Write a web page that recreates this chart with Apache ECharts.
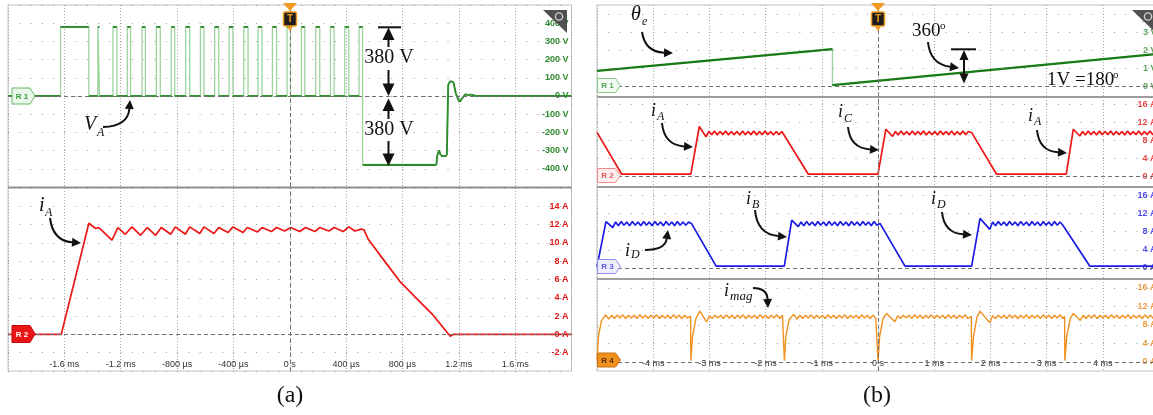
<!DOCTYPE html>
<html>
<head>
<meta charset="utf-8">
<script src="https://cdn.jsdelivr.net/npm/echarts@6/dist/echarts.min.js"></script>
<style>
  html, body { margin: 0; padding: 0; background: #fff; }
  #c { width: 1153px; height: 415px; }
</style>
</head>
<body>
<div id="c"></div>
<script>
// ---------------- (a) single switching period, 400 us/div ----------------
// Leg voltage V_A: windows [start, end] (ms) during which V_A sits at +380 V
const vaPulses = [
  [-1.627, -1.426], [-1.362, -1.350], [-1.255, -1.227], [-1.153, -1.130], [-1.049, -1.025],
  [-0.947, -0.919], [-0.841, -0.817], [-0.739, -0.710], [-0.634, -0.609], [-0.533, -0.504],
  [-0.431, -0.403], [-0.327, -0.296], [-0.225, -0.197], [-0.123, -0.094], [-0.019, 0.005],
  [0.083, 0.107], [0.185, 0.213], [0.289, 0.315], [0.391, 0.419], [0.492, 0.517]
];
const vaHigh = 380;
const vaLead = [[-2.0, 0]];
// demagnetising interval (-380 V) and ringing back to zero
const vaTail = [
  [0.517, -376], [1.042, -376], [1.046, -330], [1.060, -298], [1.072, -326], [1.115, -326],
  [1.125, 62], [1.140, 82], [1.162, 76], [1.180, 10], [1.205, -33], [1.225, -12],
  [1.248, 10], [1.268, 4], [1.290, 8], [1.320, 0], [2.0, 0]
];
// Phase current i_A (ms, A)
const iaPoints = [
  [-2.0, 0], [-1.622, 0], [-1.426, 12.15], [-1.378, 11.57], [-1.355, 11.68], [-1.262, 10.31],
  [-1.220, 11.68], [-1.167, 10.94], [-1.120, 11.75], [-1.059, 10.83], [-1.011, 11.68],
  [-0.952, 10.83], [-0.912, 11.68], [-0.845, 10.94], [-0.812, 11.75], [-0.741, 10.94],
  [-0.710, 11.75], [-0.639, 11.02], [-0.609, 11.75], [-0.538, 11.02], [-0.504, 11.68],
  [-0.438, 11.13], [-0.403, 11.75], [-0.332, 11.13], [-0.301, 11.68], [-0.229, 11.20],
  [-0.197, 11.68], [-0.130, 11.24], [-0.094, 11.68], [-0.036, 11.30], [0.007, 11.68],
  [0.071, 11.24], [0.112, 11.68], [0.178, 11.24], [0.213, 11.68], [0.277, 11.30],
  [0.315, 11.68], [0.379, 11.24], [0.419, 11.75], [0.462, 11.30], [0.509, 11.50],
  [0.526, 11.44], [0.557, 10.40], [0.664, 8.20], [0.781, 5.80], [0.900, 3.94],
  [1.018, 2.10], [1.125, 0.07], [1.140, -0.20], [1.160, 0], [2.0, 0]
];
const xTicksA = [-1.6, -1.2, -0.8, -0.4, 0, 0.4, 0.8, 1.2, 1.6];
const xTickLabelsA = ['-1.6 ms', '-1.2 ms', '-800 µs', '-400 µs', '0 s', '400 µs', '800 µs', '1.2 ms', '1.6 ms'];
const vTicksA = [-400, -300, -200, -100, 0, 100, 200, 300, 400];
const vTickLabelsA = ['-400 V', '-300 V', '-200 V', '-100 V', '0 V', '100 V', '200 V', '300 V', '400 V'];
const iTicksA = [-2, 0, 2, 4, 6, 8, 10, 12, 14];
const iTickLabelsA = ['-2 A', '0 A', '2 A', '4 A', '6 A', '8 A', '10 A', '12 A', '14 A'];

// ---------------- (b) several electrical periods, 1 ms/div ----------------
// Rotor angle signal theta_e (1 V = 180 deg)
const thetaPoints = [[-5.0, 0.85], [-0.81, 2.05], [-0.81, 0.06], [5.0, 1.80]];
// Phase currents i_A / i_C (channel R2)
const iAcPoints = [
  [-5.0, 9.7], [-4.56, 0.4], [-3.33, 0.4], [-3.18, 11.0], [-3.06, 8.7],
  [-3.01, 9.9], [-2.96, 9.2], [-2.91, 10.0], [-2.86, 9.1], [-2.81, 9.9], [-2.76, 9.2], [-2.71, 10.0],
  [-2.66, 9.1], [-2.61, 9.9], [-2.56, 9.2], [-2.51, 9.9], [-2.46, 9.1], [-2.41, 10.0], [-2.36, 9.2],
  [-2.31, 9.9], [-2.26, 9.2], [-2.21, 10.0], [-2.16, 9.1], [-2.11, 9.9], [-2.06, 9.2], [-2.01, 10.0],
  [-1.96, 9.2], [-1.91, 9.9], [-1.86, 9.1], [-1.81, 9.9], [-1.76, 9.2], [-1.71, 9.9], [-1.69, 9.7],
  [-1.24, 0.4], [0.0, 0.4], [0.14, 10.4], [0.26, 8.8],
  [0.31, 9.9], [0.36, 9.1], [0.41, 10.0], [0.46, 9.2], [0.51, 9.9], [0.56, 9.1], [0.61, 10.0],
  [0.66, 9.2], [0.71, 9.9], [0.76, 9.2], [0.81, 10.0], [0.86, 9.1], [0.91, 9.9], [0.96, 9.2],
  [1.01, 9.9], [1.06, 9.1], [1.11, 10.0], [1.16, 9.2], [1.21, 9.9], [1.26, 9.2], [1.31, 10.0],
  [1.36, 9.1], [1.41, 9.9], [1.46, 9.2], [1.51, 10.0], [1.56, 9.2], [1.61, 9.9], [1.67, 9.6],
  [2.11, 0.4], [3.35, 0.4], [3.475, 10.4], [3.59, 8.9],
  [3.64, 9.9], [3.69, 9.1], [3.74, 10.0], [3.79, 9.2], [3.84, 9.9], [3.89, 9.1], [3.94, 10.0],
  [3.99, 9.2], [4.04, 9.9], [4.09, 9.2], [4.14, 10.0], [4.19, 9.1], [4.24, 9.9], [4.29, 9.2],
  [4.34, 9.9], [4.39, 9.1], [4.44, 10.0], [4.49, 9.2], [4.54, 9.9], [4.59, 9.2], [4.64, 10.0],
  [4.69, 9.1], [4.74, 9.9], [4.79, 9.2], [4.84, 10.0], [4.89, 9.2], [4.94, 9.9], [5.0, 9.3]
];
// Phase currents i_B / i_D (channel R3)
const iBdPoints = [
  [-5.0, 0.3], [-4.84, 10.2], [-4.72, 8.9],
  [-4.67, 10.1], [-4.62, 9.3], [-4.57, 10.2], [-4.52, 9.4], [-4.47, 10.1], [-4.42, 9.3], [-4.37, 10.2],
  [-4.32, 9.4], [-4.27, 10.1], [-4.22, 9.3], [-4.17, 10.2], [-4.12, 9.4], [-4.07, 10.1], [-4.02, 9.3],
  [-3.97, 10.2], [-3.92, 9.4], [-3.87, 10.1], [-3.82, 9.3], [-3.77, 10.2], [-3.72, 9.4], [-3.67, 10.1],
  [-3.62, 9.3], [-3.57, 10.2], [-3.52, 9.4], [-3.47, 10.1], [-3.42, 9.4], [-3.37, 10.1], [-3.32, 9.8],
  [-2.88, 0.4], [-1.667, 0.4], [-1.535, 10.5], [-1.42, 9.1],
  [-1.37, 10.1], [-1.32, 9.3], [-1.27, 10.2], [-1.22, 9.4], [-1.17, 10.1], [-1.12, 9.3], [-1.07, 10.2],
  [-1.02, 9.4], [-0.97, 10.1], [-0.92, 9.3], [-0.87, 10.2], [-0.82, 9.4], [-0.77, 10.1], [-0.72, 9.3],
  [-0.67, 10.2], [-0.62, 9.4], [-0.57, 10.1], [-0.52, 9.3], [-0.47, 10.2], [-0.42, 9.4], [-0.37, 10.1],
  [-0.32, 9.3], [-0.27, 10.2], [-0.22, 9.4], [-0.17, 10.1], [-0.12, 9.3], [-0.07, 10.2], [-0.02, 9.4],
  [0.036, 9.8], [0.48, 0.4], [1.667, 0.4], [1.815, 10.9], [1.99, 8.5],
  [2.04, 10.1], [2.09, 9.3], [2.14, 10.2], [2.19, 9.4], [2.24, 10.1], [2.29, 9.3], [2.34, 10.2],
  [2.39, 9.4], [2.44, 10.1], [2.49, 9.3], [2.54, 10.2], [2.59, 9.4], [2.64, 10.1], [2.69, 9.3],
  [2.74, 10.2], [2.79, 9.4], [2.84, 10.1], [2.89, 9.3], [2.94, 10.2], [2.99, 9.4], [3.04, 10.1],
  [3.09, 9.3], [3.14, 10.2], [3.19, 9.4], [3.24, 10.1], [3.29, 9.4], [3.325, 9.8],
  [3.77, 0.4], [5.0, 0.4]
];
// Magnetising current i_mag (channel R4)
const iMagPoints = [
  [-5.0, 0.3], [-4.97, 6.0], [-4.92, 8.9], [-4.85, 10.2], [-4.79, 9.3],
  [-4.74, 10.1], [-4.69, 9.4], [-4.64, 10.1], [-4.59, 9.5], [-4.54, 10.2], [-4.49, 9.4], [-4.44, 10.1],
  [-4.39, 9.5], [-4.34, 10.1], [-4.29, 9.4], [-4.24, 10.2], [-4.19, 9.5], [-4.14, 10.1], [-4.09, 9.4],
  [-4.04, 10.1], [-3.99, 9.5], [-3.94, 10.2], [-3.89, 9.4], [-3.84, 10.1], [-3.79, 9.5], [-3.74, 10.1],
  [-3.69, 9.4], [-3.64, 10.2], [-3.59, 9.5], [-3.54, 10.1], [-3.49, 9.4], [-3.44, 10.1], [-3.39, 9.5],
  [-3.335, 9.9], [-3.33, 0.3], [-3.30, 5.6], [-3.24, 9.4], [-3.17, 11.0], [-3.05, 8.7],
  [-3.00, 10.0], [-2.95, 9.4], [-2.90, 10.1], [-2.85, 9.5], [-2.80, 10.1], [-2.75, 9.4], [-2.70, 10.2],
  [-2.65, 9.5], [-2.60, 10.1], [-2.55, 9.4], [-2.50, 10.1], [-2.45, 9.5], [-2.40, 10.2], [-2.35, 9.4],
  [-2.30, 10.1], [-2.25, 9.5], [-2.20, 10.1], [-2.15, 9.4], [-2.10, 10.2], [-2.05, 9.5], [-2.00, 10.1],
  [-1.95, 9.4], [-1.90, 10.1], [-1.85, 9.5], [-1.80, 10.2], [-1.75, 9.4], [-1.70, 10.1], [-1.67, 9.8],
  [-1.665, 0.3], [-1.64, 5.6], [-1.58, 9.2], [-1.50, 10.3], [-1.44, 9.3],
  [-1.39, 10.1], [-1.34, 9.4], [-1.29, 10.1], [-1.24, 9.5], [-1.19, 10.2], [-1.14, 9.4], [-1.09, 10.1],
  [-1.04, 9.5], [-0.99, 10.1], [-0.94, 9.4], [-0.89, 10.2], [-0.84, 9.5], [-0.79, 10.1], [-0.74, 9.4],
  [-0.69, 10.1], [-0.64, 9.5], [-0.59, 10.2], [-0.54, 9.4], [-0.49, 10.1], [-0.44, 9.5], [-0.39, 10.1],
  [-0.34, 9.4], [-0.29, 10.2], [-0.24, 9.5], [-0.19, 10.1], [-0.14, 9.4], [-0.09, 10.1], [-0.04, 9.5],
  [-0.005, 9.9], [0.0, 0.3], [0.03, 5.6], [0.09, 9.4], [0.155, 10.5], [0.30, 8.7],
  [0.35, 10.0], [0.40, 9.4], [0.45, 10.1], [0.50, 9.5], [0.55, 10.1], [0.60, 9.4], [0.65, 10.2],
  [0.70, 9.5], [0.75, 10.1], [0.80, 9.4], [0.85, 10.1], [0.90, 9.5], [0.95, 10.2], [1.00, 9.4],
  [1.05, 10.1], [1.10, 9.5], [1.15, 10.1], [1.20, 9.4], [1.25, 10.2], [1.30, 9.5], [1.35, 10.1],
  [1.40, 9.4], [1.45, 10.1], [1.50, 9.5], [1.55, 10.2], [1.60, 9.4], [1.66, 9.9],
  [1.665, 0.3], [1.70, 5.6], [1.76, 9.6], [1.815, 11.0], [1.99, 8.5],
  [2.04, 10.0], [2.09, 9.4], [2.14, 10.1], [2.19, 9.5], [2.24, 10.1], [2.29, 9.4], [2.34, 10.2],
  [2.39, 9.5], [2.44, 10.1], [2.49, 9.4], [2.54, 10.1], [2.59, 9.5], [2.64, 10.2], [2.69, 9.4],
  [2.74, 10.1], [2.79, 9.5], [2.84, 10.1], [2.89, 9.4], [2.94, 10.2], [2.99, 9.5], [3.04, 10.1],
  [3.09, 9.4], [3.14, 10.1], [3.19, 9.5], [3.24, 10.2], [3.29, 9.4], [3.32, 9.9],
  [3.325, 0.3], [3.36, 5.6], [3.42, 9.4], [3.475, 10.5], [3.60, 9.0],
  [3.65, 10.1], [3.70, 9.4], [3.75, 10.1], [3.80, 9.5], [3.85, 10.2], [3.90, 9.4], [3.95, 10.1],
  [4.00, 9.5], [4.05, 10.1], [4.10, 9.4], [4.15, 10.2], [4.20, 9.5], [4.25, 10.1], [4.30, 9.4],
  [4.35, 10.1], [4.40, 9.5], [4.45, 10.2], [4.50, 9.4], [4.55, 10.1], [4.60, 9.5], [4.65, 10.1],
  [4.70, 9.4], [4.75, 10.2], [4.80, 9.5], [4.85, 10.1], [4.90, 9.4], [4.95, 10.1], [5.0, 9.7]
];
const xTicksB = [-4, -3, -2, -1, 0, 1, 2, 3, 4];
const xTickLabelsB = ['-4 ms', '-3 ms', '-2 ms', '-1 ms', '0 s', '1 ms', '2 ms', '3 ms', '4 ms'];
const thetaTicks = [0, 1, 2, 3];
const thetaTickLabels = ['0 V', '1 V', '2 V', '3 V'];
const ampTicksB = [0, 4, 8, 12, 16];
const ampTickLabelsB = ['0 A', '4 A', '8 A', '12 A', '16 A'];

// ---------------- helpers ----------------
const SANS = '"Liberation Sans", Arial, sans-serif';
const SERIF = '"Liberation Serif", "Times New Roman", serif';
const INK = '#111';
const GREEN = '#2e8b2e', GREEN_LT = '#9cd49c', RED = '#ee1515', BLUE = '#1a1ae6', ORANGE = '#f0901e';

function pick(ticks, labels) {
  return v => {
    const i = ticks.findIndex(t => Math.abs(t - v) < 1e-6);
    return i < 0 ? '' : labels[i];
  };
}

function buildVa() {
  const pts = vaLead.slice();
  vaPulses.forEach(([s, e], i) => {
    pts.push([s, 0], [s, vaHigh], [e, vaHigh]);
    if (i < vaPulses.length - 1) pts.push([e, 0]);
  });
  return pts.concat(vaTail);
}
// non-vertical pieces of a trace, drawn darker than the fast edges
function flatPieces(pts) {
  const out = [];
  for (let i = 1; i < pts.length; i++) {
    if (pts[i][0] - pts[i - 1][0] > 0.004) out.push({ coords: [pts[i - 1], pts[i]] });
  }
  return out;
}

const DASH = { color: '#6f6f6f', type: [4, 3], width: 1 };
function marks(rows, gap) {
  const data = [{ yAxis: 0, lineStyle: DASH }, { xAxis: 0, lineStyle: DASH }];
  (rows || []).forEach(v => data.push({ yAxis: v, lineStyle: { color: '#999', type: [1, gap], width: 1 } }));
  return { silent: true, symbol: ['none', 'none'], label: { show: false }, animation: false, data };
}

const xA = { min: -2, max: 2, step: 0.4 };
const xB = { min: -5, max: 5, step: 1 };

const gridBase = { show: true, borderColor: '#c2c2c2', borderWidth: 1, backgroundColor: '#fff', containLabel: false, outerBoundsMode: 'none' };
const grids = [
  { left: 8, top: 5, width: 563.5, height: 182 },
  { left: 8, top: 188, width: 563.5, height: 183 },
  { left: 597, top: 5, width: 562, height: 92 },
  { left: 597, top: 97, width: 562, height: 90 },
  { left: 597, top: 187, width: 562, height: 92 },
  { left: 597, top: 279, width: 562, height: 92 }
].map(g => Object.assign({}, gridBase, g));

function xAxis(gi, range, labelFn, margin) {
  return {
    type: 'value', gridIndex: gi, min: range.min, max: range.max, interval: range.step,
    axisLine: { show: false }, axisTick: { show: false },
    splitLine: { show: true, lineStyle: { color: '#a6a6a6', type: [1, 2], width: 1 } },
    axisLabel: labelFn ? { show: true, inside: true, margin, fontSize: 9, fontFamily: SANS, color: '#333', formatter: labelFn } : { show: false }
  };
}

const xAxes = [
  xAxis(0, xA, null), xAxis(1, xA, pick(xTicksA, xTickLabelsA), 2),
  xAxis(2, xB, null), xAxis(3, xB, null), xAxis(4, xB, null), xAxis(5, xB, pick(xTicksB, xTickLabelsB), 3)
];

function yAxisA(gi, min, max, step, fn, color) {
  return {
    type: 'value', gridIndex: gi, position: 'right', min, max, interval: step,
    axisLine: { show: false }, axisTick: { show: false },
    splitLine: { show: true, lineStyle: { color: '#999', type: [1, 10.27], width: 1 } },
    axisLabel: { inside: true, margin: 3, fontSize: 9, fontWeight: 'bold', fontFamily: SANS, color, formatter: fn }
  };
}
const yAxes = [
  yAxisA(0, -500, 500, 100, pick(vTicksA, vTickLabelsA), '#2f8a2f'),
  yAxisA(1, -4, 16, 2, pick(iTicksA, iTickLabelsA), '#e01414'),
  { type: 'value', gridIndex: 2, min: -0.6, max: 4.5, show: false },
  { type: 'value', gridIndex: 3, min: -2.44, max: 17.56, show: false },
  { type: 'value', gridIndex: 4, min: -2.42, max: 17.8, show: false },
  { type: 'value', gridIndex: 5, min: -1.95, max: 17.95, show: false }
];

function trace(gi, data, color, width, extra) {
  return Object.assign({
    type: 'line', xAxisIndex: gi, yAxisIndex: gi, data, showSymbol: false, symbol: 'none',
    lineStyle: { color, width }, silent: true, animation: false, z: 3
  }, extra || {});
}
function pieces(gi, pts, color, width) {
  return {
    type: 'lines', coordinateSystem: 'cartesian2d', xAxisIndex: gi, yAxisIndex: gi, polyline: false,
    data: flatPieces(pts), lineStyle: { color, width, opacity: 1 }, silent: true, animation: false, z: 4
  };
}
function rightLabels(gi, ticks, labels, color, rows) {
  return {
    type: 'scatter', xAxisIndex: gi, yAxisIndex: gi, silent: true, symbolSize: 1, clip: false, z: 1,
    itemStyle: { color: 'rgba(0,0,0,0)' }, animation: false,
    data: ticks.map(v => [xB.max, v]),
    label: { show: true, position: 'left', distance: 2, formatter: p => labels[p.dataIndex],
             color, fontSize: 9, fontWeight: 'bold', fontFamily: SANS },
    markLine: marks(rows, 10.24)
  };
}

const vaPts = buildVa();
const series = [
  trace(0, vaPts, GREEN_LT, 1.3, { markLine: marks() }),
  pieces(0, vaPts, GREEN, 1.9),
  trace(1, iaPoints, RED, 1.7, { markLine: marks() }),
  rightLabels(2, thetaTicks, thetaTickLabels, '#2f8a2f', [1, 2, 3, 4]),
  trace(2, thetaPoints, GREEN_LT, 1.4),
  pieces(2, thetaPoints, '#177a17', 2.2),
  rightLabels(3, ampTicksB, ampTickLabelsB, '#e01414', [4, 8, 12, 16]),
  trace(3, iAcPoints, RED, 1.7),
  rightLabels(4, ampTicksB, ampTickLabelsB, '#1a1ae0', [4, 8, 12, 16]),
  trace(4, iBdPoints, BLUE, 1.7),
  rightLabels(5, ampTicksB, ampTickLabelsB, '#e68214', [4, 8, 12, 16]),
  trace(5, iMagPoints, ORANGE, 1.4)
];

// ---------------- overlay drawing: frames, markers, annotations ----------------
const G = [];
function line(x1, y1, x2, y2, stroke, w) {
  G.push({ type: 'line', shape: { x1, y1, x2, y2 }, style: { stroke, lineWidth: w }, z: 90, silent: true });
}
function text(x, y, s, font, fill, align) {
  G.push({ type: 'text', x, y, z: 100, silent: true,
    style: { text: s, font, fill: fill || INK, align: align || 'left', verticalAlign: 'middle',
             textAlign: align || 'left', textVerticalAlign: 'middle' } });
}
function head(tx, ty, ux, uy, len, half) {
  const bx = tx - ux * len, by = ty - uy * len;
  G.push({ type: 'polygon', z: 100, silent: true,
    shape: { points: [[tx, ty], [bx - uy * half, by + ux * half], [bx + uy * half, by - ux * half]] },
    style: { fill: INK } });
  return [bx, by];
}
function curved(x0, y0, cx, cy, x1, y1) {
  const dx = x1 - cx, dy = y1 - cy, L = Math.hypot(dx, dy);
  const [bx, by] = head(x1, y1, dx / L, dy / L, 9, 4.5);
  G.push({ type: 'bezierCurve', z: 99, silent: true,
    shape: { x1: x0, y1: y0, cpx1: cx, cpy1: cy, x2: bx, y2: by },
    style: { stroke: INK, lineWidth: 2, fill: 'none' } });
}
function tag(x, yc, label, fill, stroke, color, h) {
  const w = 18, tip = 5;
  G.push({ type: 'polygon', z: 80, silent: true,
    shape: { points: [[x, yc - h / 2], [x + w, yc - h / 2], [x + w + tip, yc], [x + w, yc + h / 2], [x, yc + h / 2]] },
    style: { fill, stroke, lineWidth: 1 } });
  text(x + w / 2 + 1, yc + 0.5, label, 'bold 8px ' + SANS, color, 'center');
}
function trigger(x) {
  G.push({ type: 'polygon', z: 85, silent: true, shape: { points: [[x - 7, 3], [x + 7, 3], [x, 11]] }, style: { fill: '#f39a1e' } });
  G.push({ type: 'rect', z: 85, silent: true, shape: { x: x - 6.5, y: 12, width: 13, height: 14, r: 1.5 },
    style: { fill: '#1c1c1c', stroke: '#f39a1e', lineWidth: 1.5 } });
  text(x, 19.5, 'T', 'bold 10px ' + SANS, '#f39a1e', 'center');
  G.push({ type: 'polygon', z: 85, silent: true, shape: { points: [[x - 3, 26.5], [x + 3, 26.5], [x, 31]] }, style: { fill: '#f39a1e' } });
}
function magnifier(x0, x1, y0, y1) {
  G.push({ type: 'polygon', z: 95, silent: true, shape: { points: [[x0, y0], [x1, y0], [x1, y1]] }, style: { fill: '#505050' } });
  G.push({ type: 'circle', z: 96, silent: true, shape: { cx: x1 - 8, cy: y0 + 6.5, r: 3.6 }, style: { fill: 'none', stroke: '#cfcfcf', lineWidth: 1.4 } });
  line(x1 - 10.8, y0 + 9.3, x1 - 14, y0 + 12.5, '#cfcfcf', 1.8);
}

// sub-panel dividers
line(8, 187.5, 571.5, 187.5, '#8a8a8a', 1.6);
[97, 187, 279].forEach(y => line(597, y, 1159, y, '#8a8a8a', 1.6));

// channel tags
tag(12, 96, 'R 1', '#eaf6ea', '#63b963', '#3c9a3c', 16);
tag(12, 334, 'R 2', '#e81616', '#c80000', '#ffffff', 17);
tag(597.5, 85.5, 'R 1', '#f2faf2', '#86c986', '#52a852', 14);
tag(597.5, 175.5, 'R 2', '#fdeeee', '#f08a8a', '#e45a5a', 14);
tag(597.5, 266.5, 'R 3', '#eeeefd', '#8a8af0', '#5a5ae0', 14);
tag(597.5, 360, 'R 4', '#f0901e', '#c86f0c', '#5a3000', 14);

trigger(290);
trigger(878);
magnifier(543, 567, 10, 33);
magnifier(1132, 1156, 10, 33);

// (a) 380 V double arrows
line(378, 27.3, 401, 27.3, INK, 2);
head(388.5, 27.5, 0, -1, 12.5, 6);
line(388.5, 40, 388.5, 47, INK, 2);
text(389, 58, '380 V', '20px ' + SERIF, INK, 'center');
line(388.5, 70, 388.5, 84, INK, 2);
head(388.5, 96, 0, 1, 12.5, 6);
head(388.5, 98.5, 0, -1, 12.5, 6);
line(388.5, 111, 388.5, 119, INK, 2);
text(389, 130, '380 V', '20px ' + SERIF, INK, 'center');
line(388.5, 141, 388.5, 154, INK, 2);
head(388.5, 166, 0, 1, 12.5, 6);

// (a) labels
text(84, 125, 'V', 'italic 20px ' + SERIF);
text(97, 132.5, 'A', 'italic 12px ' + SERIF);
curved(103, 127, 128, 126, 130, 100);
text(39, 206, 'i', 'italic 20px ' + SERIF);
text(45, 212.5, 'A', 'italic 12px ' + SERIF);
curved(50, 218, 53, 241, 81, 243);

// (b) angle annotations
text(631, 15, 'θ', 'italic 20px ' + SERIF);
text(642, 21.5, 'e', 'italic 12px ' + SERIF);
curved(642, 32, 645, 52, 673, 53);
text(912, 31, '360', '19px ' + SERIF);
text(940, 26, 'o', '11px ' + SERIF);
curved(928, 42, 930, 64, 959, 68);
line(951, 49.3, 976, 49.3, INK, 2);
head(964, 50, 0, -1, 10, 4.5);
line(964, 59, 964, 74, INK, 2);
head(964, 83.5, 0, 1, 10, 4.5);
text(1047, 80, '1V =180', '19px ' + SERIF);
text(1113, 75, 'o', '11px ' + SERIF);

// (b) current annotations
text(651, 111, 'i', 'italic 18px ' + SERIF);
text(657, 117, 'A', 'italic 12px ' + SERIF);
curved(662, 123, 664, 145, 693, 147);
text(838, 112, 'i', 'italic 18px ' + SERIF);
text(844, 119, 'C', 'italic 12px ' + SERIF);
curved(848, 127, 850, 148, 879, 150);
text(1028, 116, 'i', 'italic 18px ' + SERIF);
text(1034, 121.5, 'A', 'italic 12px ' + SERIF);
curved(1037, 130, 1039, 151, 1067, 153);
text(746, 199, 'i', 'italic 18px ' + SERIF);
text(752, 204.5, 'B', 'italic 12px ' + SERIF);
curved(755, 210, 757, 234, 787, 237);
text(625, 251, 'i', 'italic 18px ' + SERIF);
text(631, 255, 'D', 'italic 12px ' + SERIF);
curved(645, 250, 665, 250, 668, 230);
text(931, 199, 'i', 'italic 18px ' + SERIF);
text(937, 204.5, 'D', 'italic 12px ' + SERIF);
curved(942, 212, 944, 233, 972, 235);
text(724, 291, 'i', 'italic 18px ' + SERIF);
text(730, 297, 'mag', 'italic 13px ' + SERIF);
curved(753, 288, 767, 288, 768, 308);

// captions
text(290, 396, '(a)', '24px ' + SERIF, INK, 'center');
text(877, 396, '(b)', '24px ' + SERIF, INK, 'center');

const chart = echarts.init(document.getElementById('c'), null, { renderer: 'canvas', width: 1153, height: 415 });
chart.setOption({
  animation: false,
  backgroundColor: '#fff',
  grid: grids,
  xAxis: xAxes,
  yAxis: yAxes,
  series,
  graphic: { elements: G }
});
</script>
</body>
</html>
